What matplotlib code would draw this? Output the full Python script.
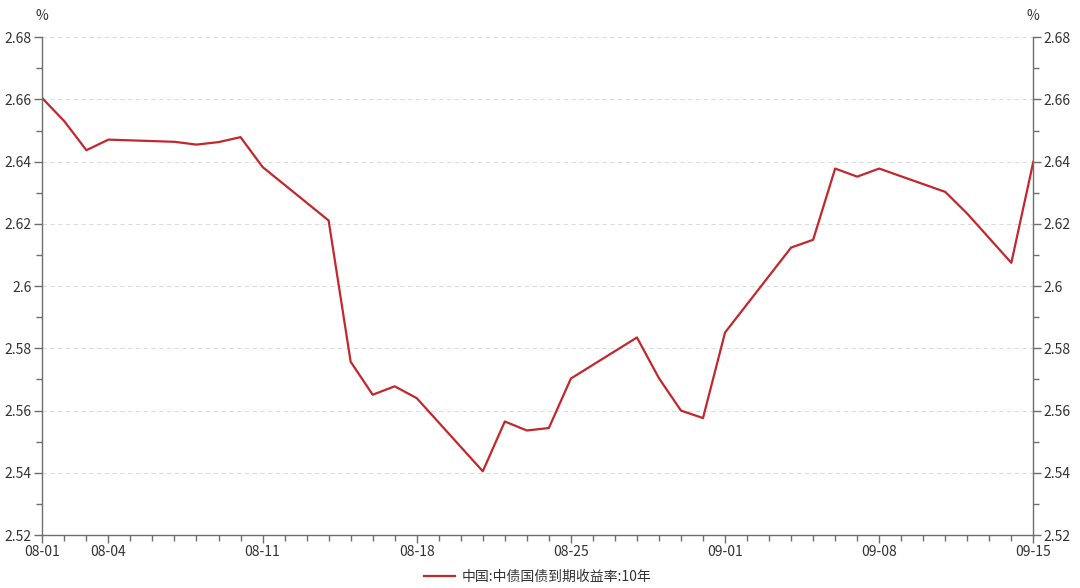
import numpy as np
import pandas as pd
import matplotlib
matplotlib.use('Agg')
import matplotlib.pyplot as plt
import matplotlib.dates as mdates
from matplotlib.ticker import FixedLocator, MultipleLocator

plt.rcParams['font.family'] = ['Noto Sans CJK SC', 'DejaVu Sans']

# trading days (2023) and 10y yield
dates = ['08-01', '08-02', '08-03', '08-04', '08-07', '08-08', '08-09', '08-10',
         '08-11', '08-14', '08-15', '08-16', '08-17', '08-18', '08-21', '08-22',
         '08-23', '08-24', '08-25', '08-28', '08-29', '08-30', '08-31', '09-01',
         '09-04', '09-05', '09-06', '09-07', '09-08', '09-11', '09-12', '09-14',
         '09-15']
yields = [2.6604, 2.6530, 2.6437, 2.6471, 2.6464, 2.6455, 2.6463, 2.6479,
          2.6383, 2.6211, 2.5757, 2.5651, 2.5678, 2.5640, 2.5405, 2.5565,
          2.5536, 2.5544, 2.5703, 2.5835, 2.5704, 2.5600, 2.5576, 2.5851,
          2.6124, 2.6149, 2.6378, 2.6352, 2.6378, 2.6303, 2.6233, 2.6075,
          2.6400]
series_name = '中国:中债国债到期收益率:10年'

x_ticks = ['08-01', '08-04', '08-11', '08-18', '08-25', '09-01', '09-08', '09-15']
y_ticks = [2.52, 2.54, 2.56, 2.58, 2.60, 2.62, 2.64, 2.66, 2.68]

x = pd.to_datetime(['2023-' + d for d in dates])
xt = pd.to_datetime(['2023-' + d for d in x_ticks])

axis_col = '#6e6e6e'
text_col = '#333333'
line_col = '#c1272d'

fig = plt.figure(figsize=(10.8, 5.88), dpi=100)
ax = fig.add_axes([0.0392, 0.0901, 0.9176, 0.8465])

ax.plot(x, yields, color=line_col, lw=1.6, label=series_name)

ax.set_xlim(xt[0], xt[-1])
ax.set_ylim(y_ticks[0], y_ticks[-1])

ax.xaxis.set_major_locator(FixedLocator(mdates.date2num(xt)))
ax.set_xticklabels(x_ticks)
ax.xaxis.set_minor_locator(mdates.DayLocator())

ax.set_yticks(y_ticks)
ax.set_yticklabels(['{:g}'.format(v) for v in y_ticks])
ax.yaxis.set_minor_locator(MultipleLocator(0.01))
ax.grid(axis='y', which='major', color='#dddddd', ls=(0, (4, 3)), lw=0.8)

ax.spines['top'].set_visible(False)
for s in ['left', 'right', 'bottom']:
    ax.spines[s].set_color(axis_col)
    ax.spines[s].set_linewidth(1.0)

ax.tick_params(axis='both', which='major', length=5.5, width=1.0, color=axis_col,
               labelcolor=text_col, labelsize=10, pad=2)
ax.tick_params(axis='both', which='minor', length=4, width=1.0, color=axis_col)
ax.tick_params(axis='y', which='both', right=True, labelright=True)

# unit labels above both y axes
fig.text(0.0392, 0.973, '%', ha='center', va='center', fontsize=10, color=text_col)
fig.text(0.9568, 0.973, '%', ha='center', va='center', fontsize=10, color=text_col)

leg = ax.legend(loc='upper center', bbox_to_anchor=(0.5, -0.045), frameon=False,
                fontsize=10, handlelength=2.2, handletextpad=0.5)
for t in leg.get_texts():
    t.set_color(text_col)

fig.savefig('out.png', dpi=100)
